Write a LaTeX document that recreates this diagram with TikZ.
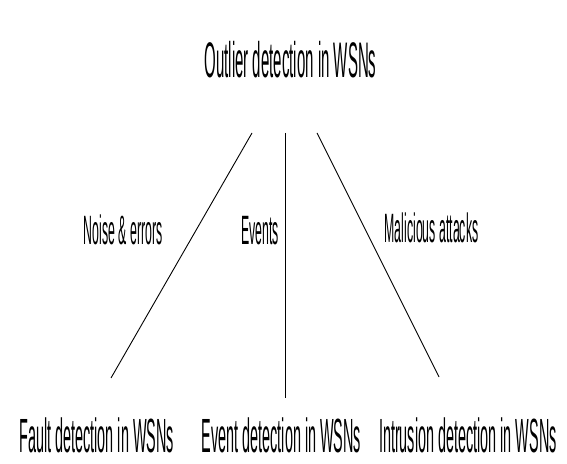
\documentclass[tikz,border=0pt]{standalone}
\usepackage{fontspec}
\newfontfamily\narrowsans[FakeStretch=0.3]{Liberation Sans}
\usetikzlibrary{positioning}

\begin{document}
\begin{tikzpicture}[x=1pt, y=1pt, line width=0.9pt,
    every node/.style={inner sep=0pt, anchor=base},
    big/.style={font=\narrowsans\fontsize{48}{58}\selectfont},
    small/.style={font=\narrowsans\fontsize{41}{49}\selectfont}]
    \useasboundingbox (0,0) rectangle (567,463);

    \node[big, font=\narrowsans\fontsize{50}{60}\selectfont] (root) at (290.5,385) {Outlier detection in WSNs};
    \node[big] (event) at (281.5,10.5) {Event detection in WSNs};
    \node[big] (fault) [base left=27pt of event] {Fault detection in WSNs};
    \node[big] (intr)  [base right=17pt of event] {Intrusion detection in WSNs};

    % branch ends
    \coordinate (rootL) at (252,330);
    \coordinate (rootM) at (285,330);
    \coordinate (rootR) at (317,330);
    \coordinate (faultT) at (111,85);
    \coordinate (eventT) at (285,65);
    \coordinate (intrT)  at (439,86);

    \draw (rootL) -- (faultT);
    \draw (rootM) -- (eventT);
    \draw (rootR) -- (intrT);

    \node[small] (noise)  at (123,218)   {Noise \& errors};
    \node[small] (evts)   at (260,218)   {Events};
    \node[small] (attack) at (431.5,220) {Malicious attacks};
\end{tikzpicture}
\end{document}
